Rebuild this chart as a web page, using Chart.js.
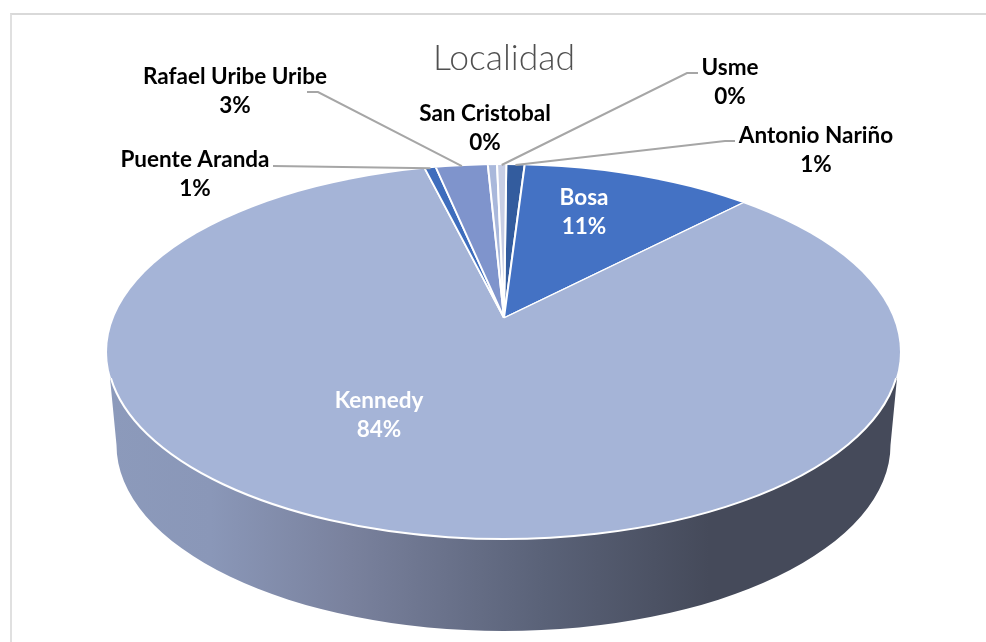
<!DOCTYPE html>
<html lang="es">
<head>
<meta charset="utf-8">
<title>Localidad</title>
<script src="https://cdn.jsdelivr.net/npm/chart.js@4/dist/chart.umd.min.js"></script>
<style>
    html, body { margin: 0; padding: 0; background: #fff; }
    #frame { position: absolute; left: 10px; top: 13px; right: 0; bottom: 0; border-top: 2px solid #d9d9d9; border-left: 2px solid #e0e0e0; }
    canvas { position: absolute; left: 0; top: 0; }
</style>
</head>
<body>
<div id="frame"></div>
<canvas id="pieChart" width="986" height="642"></canvas>
<script>
// Data (slice order starts at 12 o'clock, clockwise)
const categories = ["Antonio Nariño", "Bosa", "Kennedy", "Puente Aranda", "Rafael Uribe Uribe", "San Cristobal", "Usme"];
const values = [9, 113, 838, 5.5, 25.5, 4.5, 4.5];
const sliceColors = ["#335c9e", "#4472c4", "#a5b4d7", "#3e6dbd", "#7f94cc", "#a9b8db", "#c7cee5"];

// Label placement, centre of the two text lines
const labelPlaces = {
    "Antonio Nariño": { x: 816, y: 136, color: "#000", elbow: [[735, 141], [725, 141]] },
    "Bosa": { x: 584, y: 198, color: "#fff" },
    "Kennedy": { x: 379, y: 401, color: "#fff" },
    "Puente Aranda": { x: 195, y: 160, color: "#000", elbow: [[273, 166]] },
    "Rafael Uribe Uribe": { x: 235, y: 77, color: "#000", elbow: [[307, 92], [318, 92]] },
    "San Cristobal": { x: 485, y: 114, color: "#000" },
    "Usme": { x: 730, y: 68, color: "#000", elbow: [[698, 73], [687, 73]] },
};

// Tilted pie: top face, side wall and squash factor
const squash = 0.47;
const topFace = { x: 503.5, y: 352, rx: 396.5, ry: 187 };
const bottomFace = { x: 503.5, y: 445, rx: 387, ry: 186 };

// Point where a slice's middle ray leaves the top face
function edgePoint(arc) {
    const angle = (arc.startAngle + arc.endAngle) / 2;
    const dx = Math.cos(angle);
    const dy = Math.sin(angle) * squash;
    const ox = (arc.x - topFace.x) / topFace.rx;
    const oy = (arc.y - topFace.y) / topFace.ry;
    const ax = dx / topFace.rx;
    const ay = dy / topFace.ry;
    const a = ax * ax + ay * ay;
    const b = 2 * (ox * ax + oy * ay);
    const c = ox * ox + oy * oy - 1;
    const t = (-b + Math.sqrt(b * b - 4 * a * c)) / (2 * a);
    return [arc.x + dx * t, arc.y + dy * t];
}

const tiltPlugin = {
    id: "tilt",
    beforeDatasetsDraw(chart) {
        const ctx = chart.ctx;
        const apex = chart.getDatasetMeta(0).data[0];

        // Side wall
        const wall = ctx.createLinearGradient(108, 0, 899, 0);
        wall.addColorStop(0, "#8c9abb");
        wall.addColorStop(0.13, "#8a97b8");
        wall.addColorStop(0.3, "#7a829e");
        wall.addColorStop(0.55, "#5a6278");
        wall.addColorStop(0.76, "#454a5a");
        wall.addColorStop(1, "#454a5a");
        ctx.save();
        ctx.beginPath();
        ctx.moveTo(110, 378);
        ctx.lineTo(bottomFace.x - bottomFace.rx, bottomFace.y);
        ctx.ellipse(bottomFace.x, bottomFace.y, bottomFace.rx, bottomFace.ry, 0, Math.PI, 0, true);
        ctx.lineTo(897, 378);
        ctx.closePath();
        ctx.fillStyle = wall;
        ctx.fill();
        ctx.restore();

        // Slices are cut by the top face and squashed round the apex
        ctx.save();
        ctx.beginPath();
        ctx.ellipse(topFace.x, topFace.y, topFace.rx, topFace.ry, 0, 0, Math.PI * 2);
        ctx.clip();
        ctx.translate(apex.x, apex.y);
        ctx.scale(1, squash);
        ctx.translate(-apex.x, -apex.y);
    },
    afterDatasetsDraw(chart) {
        const ctx = chart.ctx;
        ctx.restore();

        // White rim along the front edge
        ctx.save();
        ctx.beginPath();
        ctx.ellipse(topFace.x, topFace.y, topFace.rx, topFace.ry, 0, 0.14, Math.PI - 0.14);
        ctx.strokeStyle = "#fff";
        ctx.lineWidth = 2;
        ctx.stroke();
        ctx.restore();
    },
    afterDraw(chart) {
        const ctx = chart.ctx;
        const arcs = chart.getDatasetMeta(0).data;
        const total = values.reduce((sum, v) => sum + v, 0);

        ctx.save();
        categories.forEach((name, i) => {
            const place = labelPlaces[name];

            // Leader line
            if (place.elbow) {
                const end = edgePoint(arcs[i]);
                ctx.beginPath();
                ctx.moveTo(place.elbow[0][0], place.elbow[0][1]);
                place.elbow.slice(1).forEach((p) => ctx.lineTo(p[0], p[1]));
                ctx.lineTo(end[0], end[1]);
                ctx.strokeStyle = "#a6a6a6";
                ctx.lineWidth = 2;
                ctx.stroke();
            }

            ctx.font = "bold 22.5px Lato";
            ctx.textAlign = "center";
            ctx.textBaseline = "middle";
            ctx.fillStyle = place.color;
            ctx.fillText(name, place.x, place.y);
            ctx.fillText(Math.round((values[i] / total) * 100) + "%", place.x, place.y + 29);
        });
        ctx.restore();
    },
};

const pieChart = new Chart(document.getElementById("pieChart").getContext("2d"), {
    type: "pie",
    data: {
        labels: categories,
        datasets: [
            {
                data: values,
                backgroundColor: sliceColors,
                borderColor: "#fff",
                borderWidth: 2,
                radius: 480,
                clip: false,
            },
        ],
    },
    options: {
        responsive: false,
        animation: false,
        rotation: 0.4,
        layout: {
            padding: { left: 22, right: 0, top: 0, bottom: 86 },
        },
        plugins: {
            legend: { display: false },
            tooltip: { enabled: false },
            title: {
                display: true,
                text: "Localidad",
                color: "#505050",
                font: { family: "Lato", size: 35.5, weight: "300" },
                padding: { top: 37, bottom: 0 },
            },
        },
    },
    plugins: [tiltPlugin],
});
</script>
</body>
</html>
